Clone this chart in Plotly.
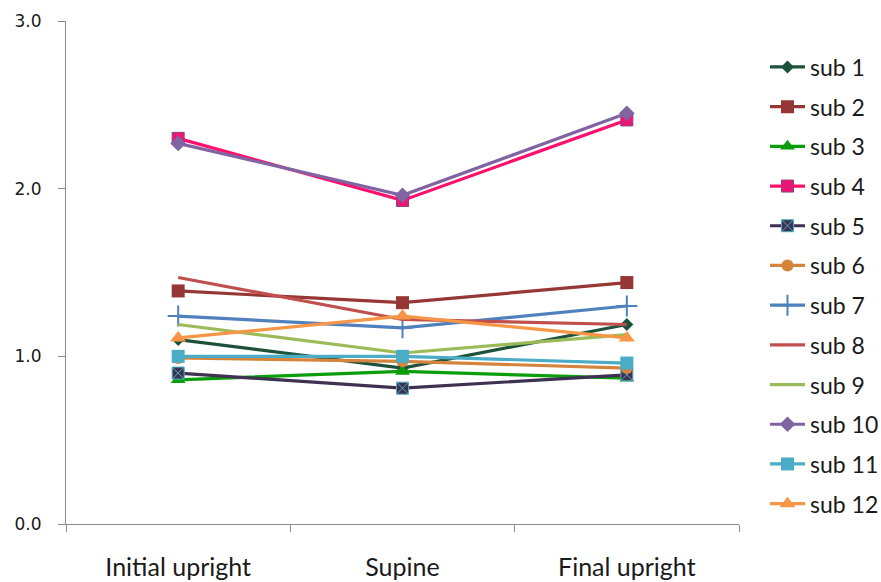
import plotly.graph_objects as go

# Measurement positions
positions = ["Initial upright", "Supine", "Final upright"]

# Values per subject across the three positions
sub1 = [1.10, 0.93, 1.19]
sub2 = [1.39, 1.32, 1.44]
sub3 = [0.86, 0.91, 0.87]
sub4 = [2.30, 1.93, 2.41]
sub5 = [0.90, 0.81, 0.89]
sub6 = [0.99, 0.97, 0.93]
sub7 = [1.24, 1.17, 1.30]
sub8 = [1.47, 1.22, 1.19]
sub9 = [1.19, 1.02, 1.13]
sub10 = [2.27, 1.96, 2.45]
sub11 = [1.00, 1.00, 0.96]
sub12 = [1.11, 1.24, 1.11]

y_ticks = [0.0, 1.0, 2.0, 3.0]
y_tick_text = ["0.0", "1.0", "2.0", "3.0"]

series = [
    ("sub 1", sub1, "#1C523A", "diamond", 10, None),
    ("sub 2", sub2, "#953735", "square", 13, None),
    ("sub 3", sub3, "#0A9E0A", "triangle-up", 13, None),
    ("sub 4", sub4, "#FF0F6E", "square-x", 12, "#8A3F88"),
    ("sub 5", sub5, "#3F3151", "square-x", 12, "#4BACC6"),
    ("sub 6", sub6, "#D4843C", "circle", 12, None),
    ("sub 7", sub7, "#4F81BD", "cross-thin", 15, "#4F81BD"),
    ("sub 8", sub8, "#C0504D", None, 0, None),
    ("sub 9", sub9, "#9BBB59", None, 0, None),
    ("sub 10", sub10, "#8064A2", "diamond", 12, None),
    ("sub 11", sub11, "#4BACC6", "square", 13, None),
    ("sub 12", sub12, "#F79646", "triangle-up", 14, None),
]

fig = go.Figure()
for name, vals, color, symbol, size, edge in series:
    if symbol is None:
        mode = "lines"
        marker = dict()
    else:
        mode = "lines+markers"
        marker = dict(symbol=symbol, size=size, color=color,
                      line=dict(color=edge if edge else color,
                                width=2 if symbol == "cross-thin" else (1 if edge else 0)))
    fig.add_trace(go.Scatter(
        x=positions, y=vals, name=name, mode=mode,
        line=dict(color=color, width=3.2),
        marker=marker, legendgroup=name,
    ))

fig.update_layout(
    width=881, height=582,
    margin=dict(l=66, r=142, t=21, b=58),
    plot_bgcolor="white", paper_bgcolor="white",
    showlegend=True,
    legend=dict(
        xref="container", yref="container",
        x=765 / 881, y=1 - 45.5 / 582,
        xanchor="left", yanchor="top",
        font=dict(family="Lato, Open Sans, sans-serif", size=23, color="#1a1a1a"),
        tracegroupgap=6.8,
        bgcolor="rgba(0,0,0,0)",
        itemwidth=35,
        maxheight=560,
    ),
    xaxis=dict(
        type="category", range=[-0.5, 2.5],
        showline=True, linecolor="#8c8c8c", linewidth=1,
        ticks="outside", ticklen=7, tickcolor="#8c8c8c",
        tickson="boundaries",
        showgrid=False, zeroline=False,
        tickfont=dict(family="Lato, Open Sans, sans-serif", size=25, color="#1a1a1a"),
        ticklabelstandoff=21,
        automargin=False,
    ),
    yaxis=dict(
        range=[0, 3], tickvals=y_ticks, ticktext=y_tick_text,
        showline=True, linecolor="#8c8c8c", linewidth=1,
        ticks="outside", ticklen=7, tickcolor="#8c8c8c",
        showgrid=False, zeroline=False,
        tickfont=dict(family="DejaVu Sans, Verdana, sans-serif", size=17, color="#1a1a1a"),
        ticklabelstandoff=13,
        automargin=False,
    ),
)

fig.write_html("out.html")
